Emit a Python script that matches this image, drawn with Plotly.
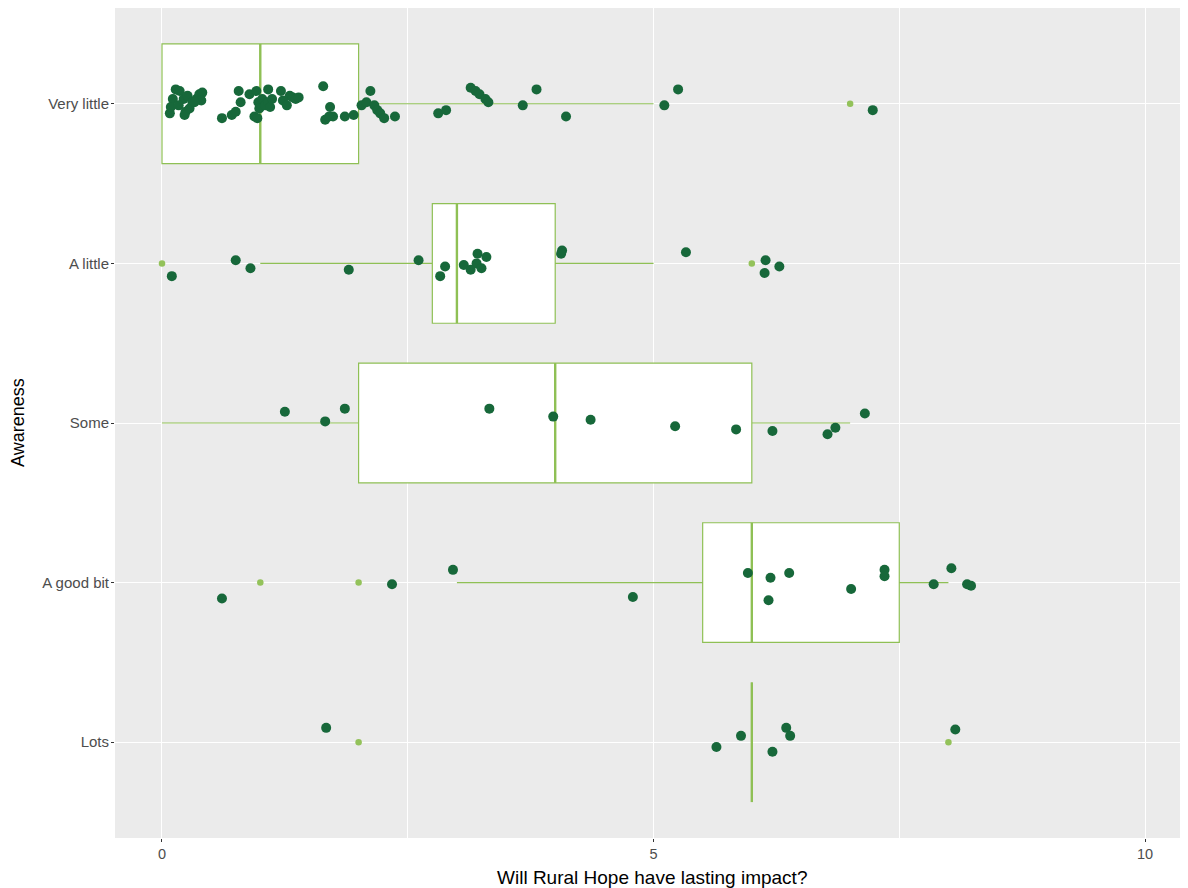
import plotly.graph_objects as go

# ---------------- data ----------------
categories = ["Lots", "A good bit", "Some", "A little", "Very little"]
cat_pos = [0, 1, 2, 3, 4]

# box statistics (per category, same order)
q1 = [6.0, 5.5, 2.0, 2.75, 0.0]
median = [6.0, 6.0, 4.0, 3.0, 1.0]
q3 = [6.0, 7.5, 6.0, 4.0, 2.0]
lower_fence = [6.0, 3.0, 0.0, 1.0, 0.0]
upper_fence = [6.0, 8.0, 7.0, 5.0, 5.0]

# outliers drawn by the boxplot
outlier_x = [2.0, 8.0, 1.0, 2.0, 0.0, 6.0, 7.0]
outlier_cat = ["Lots", "Lots", "A good bit", "A good bit", "A little", "A little", "Very little"]

# jittered raw responses: value and vertical jitter offset
very_little_x = [0.08, 0.11, 0.14, 0.18, 0.22, 0.24, 0.26, 0.31, 0.35, 0.38, 0.41, 0.40, 0.09, 0.17, 0.23, 0.28, 0.33,
                 0.61, 0.71, 0.75, 0.78, 0.80, 0.89, 0.94, 0.96, 0.98, 0.99, 1.02, 1.05, 1.08, 1.08, 1.10, 1.12, 1.21,
                 1.23, 1.27, 1.30, 1.33, 1.36, 1.39, 0.97,
                 1.64, 1.66, 1.71, 1.74, 1.86, 1.95, 2.03, 2.08, 2.12, 2.16, 2.19, 2.22, 2.26, 2.37, 1.70,
                 2.81, 2.89, 3.14, 3.19, 3.23, 3.29, 3.32, 3.67, 3.81, 4.11, 5.11, 5.25, 7.23]
very_little_dy = [-0.06, 0.03, 0.09, 0.08, 0.03, -0.05, 0.05, 0.01, 0.03, 0.06, 0.07, 0.02, -0.02, -0.01, -0.07, -0.03, 0.01,
                  -0.09, -0.07, -0.05, 0.08, 0.01, 0.06, -0.08, 0.08, 0.01, -0.03, 0.03, -0.01, 0.09, 0.01, -0.02, 0.03, 0.08,
                  0.02, -0.01, 0.05, 0.04, 0.03, 0.04, -0.09,
                  0.11, -0.10, -0.02, -0.08, -0.08, -0.07, -0.01, 0.01, 0.08, -0.01, -0.04, -0.06, -0.09, -0.08, -0.08,
                  -0.06, -0.04, 0.10, 0.08, 0.06, 0.03, 0.01, -0.01, 0.09, -0.08, -0.01, 0.09, -0.04]

a_little_x = [0.10, 0.75, 0.90, 1.90, 2.61, 2.88, 2.83, 3.07, 3.14, 3.21, 3.30, 3.20, 3.25, 4.07, 4.06, 5.33, 6.14, 6.13, 6.28]
a_little_dy = [-0.08, 0.02, -0.03, -0.04, 0.02, -0.02, -0.08, -0.01, -0.04, 0.06, 0.04, 0.00, -0.03, 0.08, 0.06, 0.07, 0.02, -0.06, -0.02]

some_x = [1.25, 1.66, 1.86, 3.33, 3.98, 4.36, 5.22, 5.84, 6.21, 6.77, 6.85, 7.15]
some_dy = [0.07, 0.01, 0.09, 0.09, 0.04, 0.02, -0.02, -0.04, -0.05, -0.07, -0.03, 0.06]

good_bit_x = [0.61, 2.34, 2.96, 4.79, 5.96, 6.19, 6.17, 6.38, 7.01, 7.35, 7.35, 7.85, 8.03, 8.19, 8.23]
good_bit_dy = [-0.10, -0.01, 0.08, -0.09, 0.06, 0.03, -0.11, 0.06, -0.04, 0.08, 0.04, -0.01, 0.09, -0.01, -0.02]

lots_x = [1.67, 5.64, 5.89, 6.35, 6.39, 6.21, 8.07]
lots_dy = [0.09, -0.03, 0.04, 0.09, 0.04, -0.06, 0.08]

x_ticks = [0, 5, 10]

# ---------------- styles ----------------
BOX_COLOR = "#8fc055"
OUTLIER_COLOR = "#93c25a"
POINT_COLOR = "#17683a"
BOX_WIDTH = 0.75
FONT = "Liberation Sans, Arial, sans-serif"

fig = go.Figure()

fig.add_trace(go.Box(
    orientation="h",
    y=cat_pos,
    q1=q1, median=median, q3=q3,
    lowerfence=lower_fence, upperfence=upper_fence,
    width=BOX_WIDTH,
    whiskerwidth=0,
    fillcolor="white",
    line=dict(color=BOX_COLOR, width=1.2),
    boxpoints=False,
    hoverinfo="skip",
))

# thicker median lines (as in ggplot)
mx, my = [], []
for p, m in zip(cat_pos, median):
    mx += [m, m, None]
    my += [p - BOX_WIDTH / 2, p + BOX_WIDTH / 2, None]
fig.add_trace(go.Scatter(x=mx, y=my, mode="lines",
                         line=dict(color=BOX_COLOR, width=2.4), hoverinfo="skip"))

# outliers
pos_of = dict(zip(categories, cat_pos))
fig.add_trace(go.Scatter(
    x=outlier_x, y=[pos_of[c] for c in outlier_cat], mode="markers",
    marker=dict(color=OUTLIER_COLOR, size=6.5, line=dict(width=0)),
    hoverinfo="skip"))

# jittered points
jx, jy = [], []
for c, xs, dys in [("Very little", very_little_x, very_little_dy),
                   ("A little", a_little_x, a_little_dy),
                   ("Some", some_x, some_dy),
                   ("A good bit", good_bit_x, good_bit_dy),
                   ("Lots", lots_x, lots_dy)]:
    jx += xs
    jy += [pos_of[c] + d for d in dys]
fig.add_trace(go.Scatter(
    x=jx, y=jy, mode="markers",
    marker=dict(color=POINT_COLOR, size=10, line=dict(width=0)),
    hoverinfo="skip"))

fig.update_layout(
    width=1180, height=880,
    margin=dict(l=107, r=0, t=0, b=50),
    paper_bgcolor="white",
    plot_bgcolor="#ebebeb",
    showlegend=False,
    font=dict(family=FONT, color="#4d4d4d", size=12),
    xaxis=dict(
        range=[-0.478, 10.437],
        tickvals=x_ticks, ticktext=[str(t) for t in x_ticks],
        showgrid=True, gridcolor="white", gridwidth=1.2,
        minor=dict(dtick=2.5, tick0=0, showgrid=True, gridcolor="white", gridwidth=0.6, ticks=""),
        zeroline=False, showline=False,
        ticks="outside", ticklen=3, tickcolor="#333333", tickwidth=1,
        tickfont=dict(size=14.5, color="#4d4d4d"),
        automargin=False,
    ),
    yaxis=dict(
        range=[-0.6, 4.6],
        tickvals=cat_pos, ticktext=categories,
        showgrid=True, gridcolor="white", gridwidth=1.2,
        zeroline=False, showline=False,
        ticks="outside", ticklen=3, tickcolor="#333333", tickwidth=1,
        tickfont=dict(size=15, color="#4d4d4d"),
        ticklabelstandoff=-1,
        automargin=False,
    ),
    annotations=[
        dict(text="Will Rural Hope have lasting impact?", xref="paper", yref="paper",
             x=0.5, y=0, xanchor="center", yanchor="middle", yshift=-39, showarrow=False,
             font=dict(size=19, color="black", family=FONT)),
        dict(text="Awareness", xref="paper", yref="paper", textangle=-90,
             x=0, y=0.5, xanchor="center", yanchor="middle", xshift=-97, showarrow=False,
             font=dict(size=18, color="black", family=FONT)),
    ],
)

fig.write_html("out.html")
